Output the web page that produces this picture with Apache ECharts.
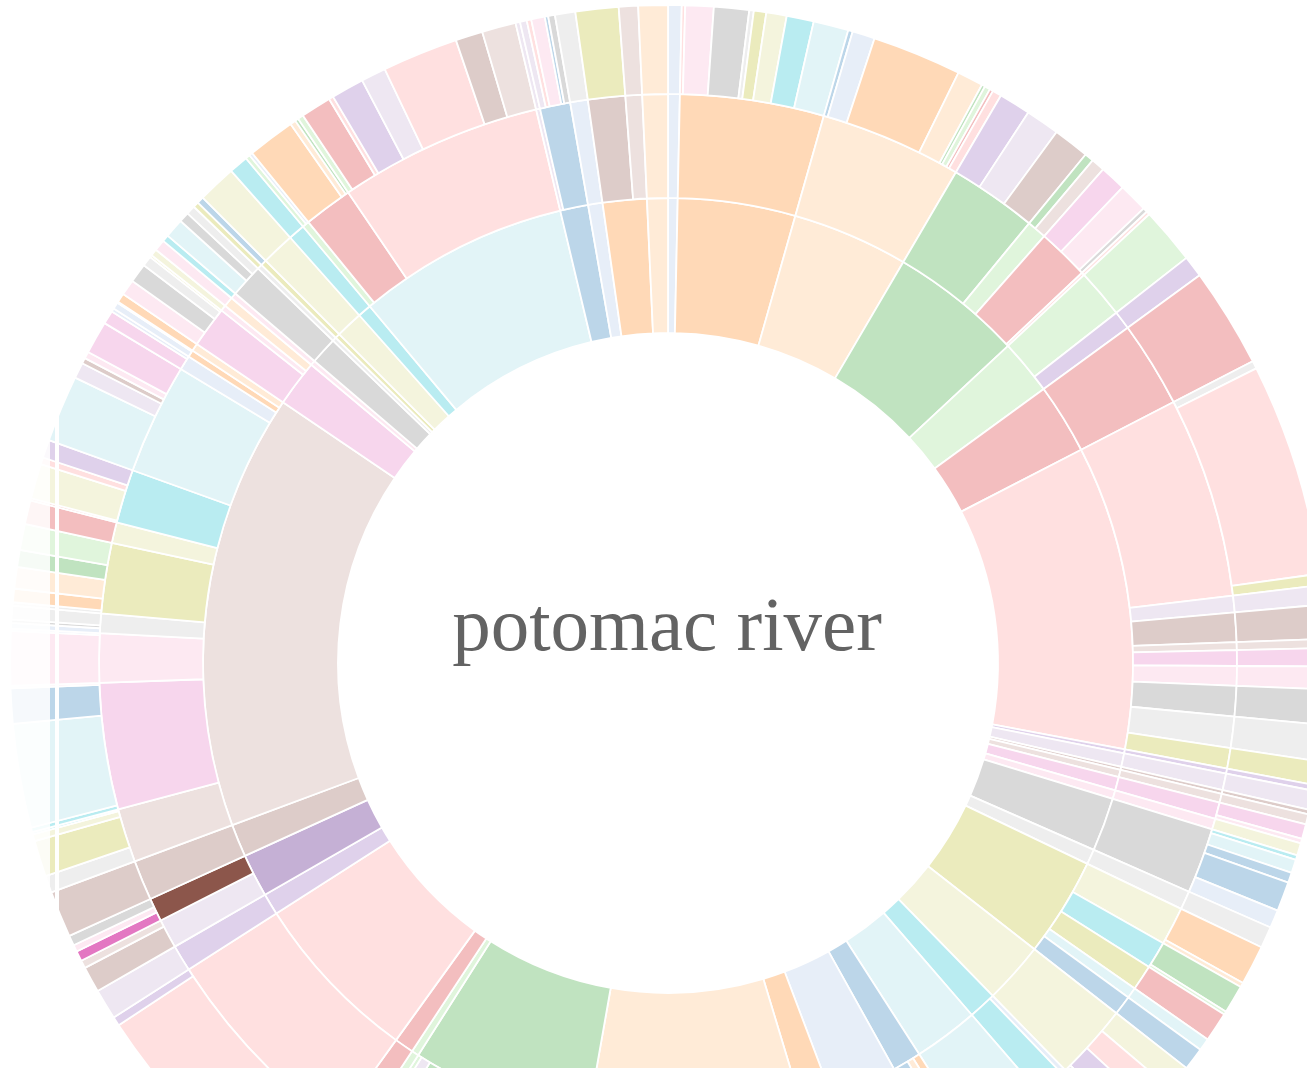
<!DOCTYPE html>
<html><head><meta charset="utf-8">
<script src="https://cdn.jsdelivr.net/npm/echarts@6/dist/echarts.min.js"></script>
<style>html,body{margin:0;padding:0;background:#fff}#chart{width:1312px;height:1068px}</style>
</head><body><div id="chart"></div>
<script>
// category20 palette keyed by short letters
const palette = {
  B:'#1f77b4', b:'#aec7e8', O:'#ff7f0e', o:'#ffbb78', G:'#2ca02c', g:'#98df8a',
  R:'#d62728', r:'#ff9896', P:'#9467bd', p:'#c5b0d5', N:'#8c564b', n:'#c49c94',
  M:'#e377c2', m:'#f7b6d2', K:'#7f7f7f', k:'#c7c7c7', Y:'#bcbd22', y:'#dbdb8d',
  C:'#17becf', c:'#9edae5'
};
const rootName = 'potomac river';

// ring 1 (colour keys, clockwise from 12 o'clock)
const level1 = ['b','O','o','G','g','R','r','P','p','N','n','M','m','K','k','Y','y','C','c','B',
  'b','O','o','G','g','R','r','P','p','N','n','M','m','K','k','Y','y','C','c','B','b','O','o'];

// ring 2: [parent index in level1, colour key]
const level2 = [
  [0,'b'],[1,'O'],[2,'o'],[3,'G'],[3,'g'],[3,'R'],[3,'r'],[4,'g'],[4,'P'],[5,'R'],
  [6,'r'],[6,'p'],[6,'N'],[6,'n'],[6,'M'],[6,'m'],[6,'K'],[6,'k'],[6,'Y'],[7,'P'],
  [8,'p'],[9,'N'],[10,'n'],[11,'M'],[12,'m'],[13,'K'],[14,'k'],[15,'y'],[15,'C'],[15,'Y'],
  [15,'c'],[15,'B'],[16,'y'],[17,'b'],[17,'C'],[18,'c'],[19,'O'],[19,'o'],[19,'B'],[20,'b'],
  [21,'O'],[22,'o'],[23,'G'],[23,'p'],[23,'g'],[24,'g'],[25,'R'],[26,'r'],[27,'P'],[28,'p'],
  [28,'N'],[29,'N'],[30,'n'],[30,'M'],[30,'m'],[30,'k'],[30,'Y'],[30,'y'],[30,'C'],[30,'c'],
  [30,'b'],[30,'O'],[30,'o'],[31,'M'],[31,'m'],[31,'o'],[32,'m'],[33,'K'],[34,'k'],[35,'Y'],
  [36,'y'],[37,'C'],[38,'g'],[38,'R'],[38,'r'],[39,'p'],[39,'B'],[40,'b'],[41,'N'],[41,'n'],
  [42,'o']
];

// ring 3 leaves: [parent index in level2, colour key, value]
const level3 = [
  [0,'b',12],
  [1,'r',3],[1,'m',25],[1,'K',31],[1,'k',4],[1,'Y',11],[1,'y',18],[1,'C',24],[1,'c',31],
  [2,'B',4],[2,'b',20],[2,'O',79],[2,'o',23],[2,'G',3],[2,'g',5],[2,'R',3],[2,'r',8],
  [3,'P',28],[3,'p',30],[3,'N',32],
  [4,'G',8],[4,'n',12],
  [5,'M',23],[5,'m',26],[5,'K',4],
  [6,'r',3],
  [7,'g',50],
  [8,'P',19],
  [9,'R',88],
  [10,'k',7],[10,'r',188],[10,'Y',10],
  [11,'p',17],[12,'N',30],[13,'n',8],[14,'M',16],[15,'m',20],[16,'K',31],[17,'k',32],[18,'Y',21],
  [19,'P',5],[20,'p',17],[21,'N',4],[22,'n',9],
  [23,'M',13],[23,'m',4],
  [24,'y',11],
  [25,'C',4],[25,'c',12],[25,'B',9],[25,'B',26],[25,'b',16],
  [26,'k',19],
  [27,'O',35],[27,'o',4],
  [28,'G',25],[28,'g',3],
  [29,'R',26],
  [30,'c',11],
  [31,'B',20],
  [32,'y',23],[32,'r',23],[32,'P',24],[32,'p',7],
  [33,'b',5],
  [34,'C',30],
  [35,'c',81],
  [36,'O',9],[37,'o',8],[38,'B',19],
  [39,'b',84],
  [40,'O',39],
  [41,'o',268],
  [42,'G',208],[43,'p',12],[44,'g',5],
  [45,'g',9],
  [46,'R',24],
  [47,'r',208],[47,'P',8],
  [48,'p',27],
  [49,'N',23],[49,'n',7],
  [50,'M',9],[50,'m',6],[50,'K',9],
  [51,'N',41],
  [52,'k',15],[52,'Y',32],[52,'y',6],[52,'C',2],
  [53,'C',4],[53,'c',92],[53,'B',31],[53,'m',2],
  [54,'m',48],[54,'b',2],
  [55,'b',5],[55,'K',3],[55,'k',12],
  [56,'k',3],[56,'O',12],[56,'o',19],[56,'G',15],[56,'g',23],
  [57,'R',21],
  [58,'R',2],[58,'y',31],[58,'r',6],[58,'P',16],
  [59,'c',59],[59,'p',14],[59,'N',5],[59,'m',6],[59,'M',29],
  [60,'M',12],[60,'b',3],
  [61,'b',6],[61,'O',1],
  [62,'O',8],
  [63,'m',14],[63,'K',17],[63,'k',9],[63,'Y',2],
  [64,'y',6],
  [65,'m',10],
  [66,'C',6],
  [67,'c',17],[67,'K',9],[67,'k',8],
  [68,'Y',5],
  [69,'B',6],
  [70,'y',34],
  [71,'C',17],
  [72,'g',4],[72,'b',3],
  [73,'O',42],[73,'o',5],[73,'G',3],
  [74,'g',5],[74,'R',27],[74,'r',4],[74,'P',29],[74,'p',22],[74,'r',67],[74,'N',24],[74,'n',30],
  [75,'p',4],
  [76,'p',6],[76,'r',4],[76,'m',12],[76,'B',3],[76,'K',6],
  [77,'k',18],
  [78,'Y',38],
  [79,'n',17],
  [80,'o',26]
];

// highlighted (hovered) path: ring1 index, ring2 index; leaf = first child of that ring2 node
const hoverPath = [28, 50];

function tint(hex, a) {
  const v = parseInt(hex.slice(1), 16);
  const ch = [(v >> 16) & 255, (v >> 8) & 255, v & 255].map(c => Math.round(c * a + 255 * (1 - a)));
  return 'rgb(' + ch.join(',') + ')';
}
function styleFor(key, full) {
  return { color: full ? palette[key] : tint(palette[key], 0.3) };
}

const hoverLeaf = level3.findIndex(e => e[0] === hoverPath[1]);
const l1Nodes = level1.map((k, i) => ({ name: 'r1-' + i, children: [], itemStyle: styleFor(k, i === hoverPath[0]) }));
const l2Nodes = level2.map(([p, k], i) => {
  const node = { name: 'r2-' + i, children: [], itemStyle: styleFor(k, i === hoverPath[1]) };
  l1Nodes[p].children.push(node);
  return node;
});
level3.forEach(([p, k, v], i) => {
  l2Nodes[p].children.push({ name: 'r3-' + i, value: v, itemStyle: styleFor(k, i === hoverLeaf) });
});

const chart = echarts.init(document.getElementById('chart'), null, { renderer: 'canvas' });
chart.setOption({
  animation: false,
  series: [{
    type: 'sunburst',
    center: [668, 663],
    radius: [0, 658],
    startAngle: 90,
    clockwise: true,
    sort: function () { return 0; },
    nodeClick: false,
    emphasis: { focus: 'none' },
    label: { show: false },
    itemStyle: { borderColor: '#fff', borderWidth: 1.8 },
    levels: [
      {},
      { r0: 0, r: 330, itemStyle: { color: '#fff', borderWidth: 0 }, label: { show: false } },
      { r0: 330, r: 465 },
      { r0: 465, r: 569 },
      { r0: 569, r: 658 }
    ],
    data: [{ name: rootName, itemStyle: { color: '#fff', borderWidth: 0 }, children: l1Nodes }]
  }],
  graphic: [
    { type: 'text', x: 667, y: 630, z: 100,
      style: { text: rootName, fontSize: 77, fontFamily: '"Liberation Serif", "Times New Roman", serif',
               fill: '#636363', align: 'center', verticalAlign: 'middle' } },
    { type: 'rect', z: 100, shape: { x: 0, y: 0, width: 50, height: 1068 },
      style: { fill: 'rgba(255,255,255,0.86)' } },
    { type: 'rect', z: 100, shape: { x: 55, y: 0, width: 4, height: 1068 }, style: { fill: '#fff' } },
    { type: 'rect', z: 100, shape: { x: 1307, y: 0, width: 5, height: 1068 }, style: { fill: '#fff' } }
  ]
});
</script>
</body></html>
